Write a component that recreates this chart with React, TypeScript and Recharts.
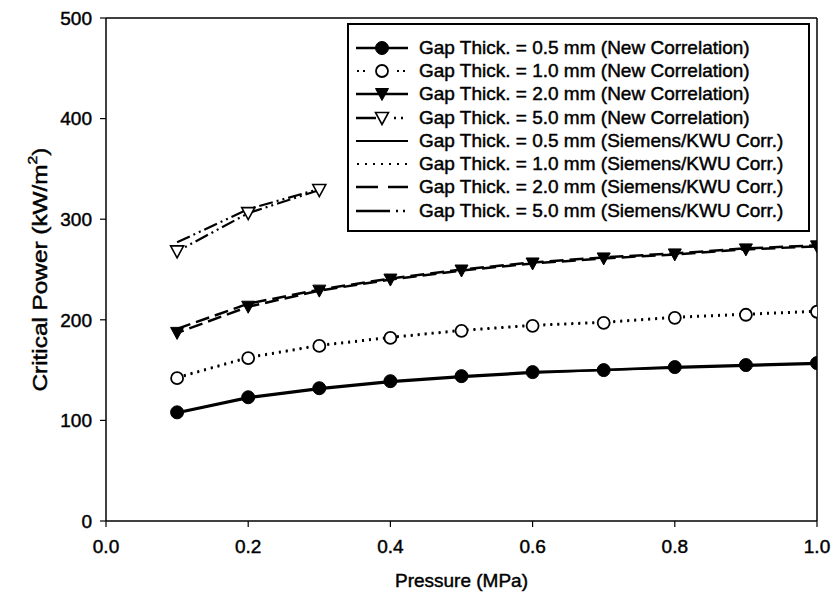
import React from "react";
import {
  LineChart,
  Line,
  XAxis,
  YAxis,
  ReferenceLine,
  Legend,
  Label,
} from "recharts";

// Pressure (MPa)
const pressure = [0.1, 0.2, 0.3, 0.4, 0.5, 0.6, 0.7, 0.8, 0.9, 1.0];

// Critical power (kW/m²), new correlation
const newGap05 = [108, 123, 132, 139, 144, 148, 150, 153, 155, 157];
const newGap10 = [142, 162, 174, 182, 189, 194, 197, 202, 205, 208];
const newGap20 = [187, 213, 229, 240, 249, 256, 261, 265, 270, 273];
const newGap50 = [268, 306, 329];

// Critical power (kW/m²), Siemens/KWU correlation
const kwuGap05 = [107, 122, 131, 138, 143, 147, 150, 152, 154, 156];
const kwuGap10 = [143, 163, 175, 183, 190, 195, 198, 203, 206, 209];
const kwuGap20 = [191, 216, 230, 241, 250, 257, 262, 266, 271, 274];
const kwuGap50 = [277, 310, 330];

const xTicks = [0, 0.2, 0.4, 0.6, 0.8, 1.0];
const yTicks = [0, 100, 200, 300, 400, 500];

const legendLabels = [
  "Gap Thick. = 0.5 mm (New Correlation)",
  "Gap Thick. = 1.0 mm (New Correlation)",
  "Gap Thick. = 2.0 mm (New Correlation)",
  "Gap Thick. = 5.0 mm (New Correlation)",
  "Gap Thick. = 0.5 mm (Siemens/KWU Corr.)",
  "Gap Thick. = 1.0 mm (Siemens/KWU Corr.)",
  "Gap Thick. = 2.0 mm (Siemens/KWU Corr.)",
  "Gap Thick. = 5.0 mm (Siemens/KWU Corr.)",
];

const rows = pressure.map((p, i) => ({
  p,
  n05: newGap05[i],
  n10: newGap10[i],
  n20: newGap20[i],
  n50: newGap50[i] ?? null,
  k05: kwuGap05[i],
  k10: kwuGap10[i],
  k20: kwuGap20[i],
  k50: kwuGap50[i] ?? null,
}));

const FONT = "'Liberation Sans', Arial, sans-serif";
const INK = "#000";
// slight outline so the lettering reads as heavy as the printed figure
const TEXT_WEIGHT = { stroke: INK, strokeWidth: 0.45 };

type MarkerKind = "fillCircle" | "openCircle" | "fillTri" | "openTri" | "none";

function markerShape(kind: MarkerKind, cx: number, cy: number, key?: string) {
  if (kind === "fillCircle")
    return <circle key={key} cx={cx} cy={cy} r={6.5} fill={INK} stroke={INK} />;
  if (kind === "openCircle")
    return (
      <circle key={key} cx={cx} cy={cy} r={6} fill="#fff" stroke={INK} strokeWidth={1.8} />
    );
  if (kind === "fillTri" || kind === "openTri") {
    const w = 6.5;
    const d = `M${cx - w},${cy - 5.5} L${cx + w},${cy - 5.5} L${cx},${cy + 6.5} Z`;
    return (
      <path
        key={key}
        d={d}
        fill={kind === "fillTri" ? INK : "#fff"}
        stroke={INK}
        strokeWidth={kind === "fillTri" ? 1 : 1.6}
        strokeLinejoin="miter"
      />
    );
  }
  return <g key={key} />;
}

const makeDot = (kind: MarkerKind) => (props: any) => {
  const { cx, cy, index } = props;
  const key = `m-${kind}-${index}`;
  if (cx == null || cy == null || props.value == null) return <g key={key} />;
  return markerShape(kind, cx, cy, key);
};

// Legend samples: each row is a short line sample plus its marker
type Sample = { segs: [number, number][]; width: number; marker: MarkerKind };
const samples: Sample[] = [
  { segs: [[4, 56]], width: 2.5, marker: "fillCircle" },
  { segs: [[5, 7], [11, 13], [45, 47], [51, 53]], width: 2, marker: "openCircle" },
  { segs: [[4, 56]], width: 2.5, marker: "fillTri" },
  { segs: [[4, 24], [42, 44], [49, 51]], width: 2.5, marker: "openTri" },
  { segs: [[4, 56]], width: 2, marker: "none" },
  { segs: [[5, 7], [13, 15], [21, 23], [29, 31], [37, 39], [45, 47], [53, 55]], width: 2, marker: "none" },
  { segs: [[4, 26], [36, 56]], width: 2.5, marker: "none" },
  { segs: [[4, 38], [44, 46], [51, 53]], width: 2.5, marker: "none" },
];

const LegendBox = () => (
  <div
    style={{
      border: "2px solid #000",
      background: "#fff",
      boxSizing: "border-box",
      width: 463,
      height: 209,
      padding: "11px 0 0 3px",
      fontFamily: FONT,
      fontSize: 19,
      color: INK,
      WebkitTextStroke: "0.45px #000",
    }}
  >
    {legendLabels.map((label, i) => (
      <div
        key={label}
        style={{ display: "flex", alignItems: "center", height: 23.3, whiteSpace: "nowrap" }}
      >
        <svg width={62} height={20} style={{ flex: "none" }}>
          {samples[i].segs.map(([a, b], j) => (
            <line
              key={j}
              x1={a}
              x2={b}
              y1={10}
              y2={10}
              stroke={INK}
              strokeWidth={samples[i].width}
            />
          ))}
          {markerShape(samples[i].marker, 30, 10)}
        </svg>
        <span style={{ marginLeft: 5, lineHeight: "20px" }}>{label}</span>
      </div>
    ))}
  </div>
);

const YTitle = (props: any) => {
  const vb = props.viewBox || {};
  const cx = 40;
  const cy = (vb.y ?? 18) + (vb.height ?? 503) / 2;
  return (
    <text
      x={cx}
      y={cy}
      transform={`rotate(-90, ${cx}, ${cy})`}
      textAnchor="middle"
      dominantBaseline="central"
      fontFamily={FONT}
      fontSize={20}
      fill={INK}
      textLength={244}
      lengthAdjust="spacingAndGlyphs"
      {...TEXT_WEIGHT}
    >
      Critical Power (kW/m
      <tspan fontSize={13} dy={-8}>
        2
      </tspan>
      <tspan dy={8}>)</tspan>
    </text>
  );
};

export default function App() {
  const tickStyle = { fontFamily: FONT, fontSize: 19, fill: INK, ...TEXT_WEIGHT };
  return (
    <div style={{ position: "absolute", left: 0, top: 0, background: "#fff" }}>
      <LineChart
        width={833}
        height={602}
        data={rows}
        margin={{ top: 18, right: 16, bottom: 31, left: 46 }}
      >
        <XAxis
          dataKey="p"
          type="number"
          domain={[0, 1]}
          ticks={xTicks}
          tickFormatter={(v: number) => v.toFixed(1)}
          tick={tickStyle}
          tickSize={6}
          tickMargin={13}
          height={50}
          stroke={INK}
          strokeWidth={1.5}
          tickLine={{ stroke: INK, strokeWidth: 1.2 }}
          allowDataOverflow
        >
          <Label
            value="Pressure (MPa)"
            position="bottom"
            offset={3}
            style={{ fontFamily: FONT, fontSize: 19, fill: INK, ...TEXT_WEIGHT }}
          />
        </XAxis>
        <YAxis
          type="number"
          domain={[0, 500]}
          ticks={yTicks}
          tick={tickStyle}
          tickSize={6}
          tickMargin={8}
          width={60}
          stroke={INK}
          strokeWidth={1.5}
          tickLine={{ stroke: INK, strokeWidth: 1.2 }}
          allowDataOverflow
        >
          <Label content={<YTitle />} />
        </YAxis>
        <ReferenceLine y={500} stroke={INK} strokeWidth={1.5} />
        <ReferenceLine x={1} stroke={INK} strokeWidth={1.5} />

        {/* Siemens/KWU correlation */}
        <Line dataKey="k05" stroke={INK} strokeWidth={2} dot={false} isAnimationActive={false} type="linear" />
        <Line dataKey="k10" stroke={INK} strokeWidth={2} strokeDasharray="2 5" dot={false} isAnimationActive={false} type="linear" />
        <Line dataKey="k20" stroke={INK} strokeWidth={2.5} strokeDasharray="14 6" dot={false} isAnimationActive={false} type="linear" />
        <Line dataKey="k50" stroke={INK} strokeWidth={2.2} strokeDasharray="14 4 2 4 2 4" dot={false} isAnimationActive={false} type="linear" connectNulls={false} />

        {/* New correlation */}
        <Line dataKey="n05" stroke={INK} strokeWidth={2.5} dot={makeDot("fillCircle")} isAnimationActive={false} type="linear" />
        <Line dataKey="n10" stroke={INK} strokeWidth={2} strokeDasharray="2 5" dot={makeDot("openCircle")} isAnimationActive={false} type="linear" />
        <Line dataKey="n20" stroke={INK} strokeWidth={2.5} strokeDasharray="14 6" strokeDashoffset={7} dot={makeDot("fillTri")} isAnimationActive={false} type="linear" />
        <Line dataKey="n50" stroke={INK} strokeWidth={2.2} strokeDasharray="14 4 2 4 2 4" strokeDashoffset={9} dot={makeDot("openTri")} isAnimationActive={false} type="linear" connectNulls={false} />

        <Legend
          layout="horizontal"
          verticalAlign="middle"
          align="center"
          content={() => <LegendBox />}
          wrapperStyle={{ position: "absolute", left: 347, top: 23, width: 463, height: 209 }}
        />
      </LineChart>
    </div>
  );
}
